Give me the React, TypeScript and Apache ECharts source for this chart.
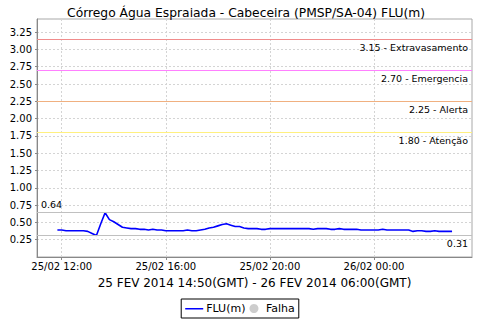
import React, { useEffect, useRef } from "react";
import * as echarts from "echarts";

const TITLE = "Córrego Água Espraiada - Cabeceira (PMSP/SA-04) FLU(m)";
const SUBTITLE = "25 FEV 2014 14:50(GMT) - 26 FEV 2014 06:00(GMT)";
const SERIES_NAME = "FLU(m)";
const FAIL_NAME = "Falha";

// minutes since 25/02 00:00 (local), readings every 10 minutes
const START_MIN = 710; // 25/02 11:50
const STEP_MIN = 10;
const X_MIN = 663;
const X_MAX = 1666;
const X_TICKS = [720, 960, 1200, 1440];

const FLU_VALUES = [
  0.39, 0.39, 0.38, 0.38, 0.38, 0.38, 0.38, 0.37, 0.34, 0.31,
  0.48, 0.64, 0.54, 0.51, 0.47, 0.43, 0.42, 0.41, 0.41, 0.40,
  0.40, 0.39, 0.40, 0.39, 0.39, 0.38, 0.38, 0.38, 0.38, 0.38,
  0.39, 0.38, 0.38, 0.39, 0.40, 0.42, 0.43, 0.45, 0.47, 0.48,
  0.46, 0.44, 0.44, 0.42, 0.41, 0.41, 0.41, 0.40, 0.40, 0.41,
  0.41, 0.41, 0.41, 0.41, 0.41, 0.41, 0.41, 0.41, 0.41, 0.40,
  0.41, 0.41, 0.41, 0.40, 0.40, 0.41, 0.40, 0.40, 0.40, 0.40,
  0.39, 0.39, 0.39, 0.39, 0.39, 0.40, 0.39, 0.39, 0.39, 0.39,
  0.39, 0.39, 0.37, 0.38, 0.38, 0.37, 0.37, 0.38, 0.37, 0.37,
  0.37, 0.37,
];

const LIMIT_VALUES = [3.15, 2.7, 2.25, 1.8];
const LIMIT_NAMES = ["Extravasamento", "Emergencia", "Alerta", "Atenção"];
const LIMIT_COLORS = ["#f08c8c", "#ff80ff", "#f0b080", "#fff080"];
const MAX_VALUE = 0.64;
const MIN_VALUE = 0.31;

const FONT = "DejaVu Sans";

export default function App() {
  const ref = useRef<HTMLDivElement>(null);
  useEffect(() => {
    if (!ref.current) return;
    const chart = echarts.init(ref.current, null, { renderer: "svg" });
    const data = FLU_VALUES.map((v, i) => [START_MIN + i * STEP_MIN, v]);
    const fmtX = (v: number) => {
      const day = v >= 1440 ? 26 : 25;
      const m = ((v % 1440) + 1440) % 1440;
      const hh = Math.floor(m / 60);
      const mm = m % 60;
      return `${day}/02 ${String(hh).padStart(2, "0")}:${String(mm).padStart(2, "0")}`;
    };
    const limitLines = LIMIT_VALUES.map((v, i) => ({
      yAxis: v,
      lineStyle: { color: LIMIT_COLORS[i], width: 1, type: "solid" },
      label: {
        show: true,
        position: "insideEndBottom",
        formatter: `${v.toFixed(2)} - ${LIMIT_NAMES[i]}`,
        color: "#000",
        fontFamily: FONT,
        fontSize: 9.5,
        distance: [4, 3],
      },
    }));
    chart.setOption({
      animation: false,
      backgroundColor: "#fff",
      textStyle: { fontFamily: FONT },
      title: {
        text: TITLE,
        left: 241,
        textAlign: "center",
        top: 2,
        textStyle: { fontFamily: FONT, fontSize: 12.3, fontWeight: "normal", color: "#000" },
      },
      grid: {
        left: 37,
        right: 8,
        top: 19,
        bottom: 63,
        show: true,
        borderColor: "#a8a8a8",
        borderWidth: 1,
        backgroundColor: "#fff",
      },
      legend: {
        bottom: 2,
        left: "center",
        itemWidth: 18,
        itemHeight: 9,
        itemGap: 4,
        padding: [4, 4],
        borderColor: "#000",
        borderWidth: 1,
        borderRadius: 0,
        textStyle: { fontFamily: FONT, fontSize: 11, color: "#000", padding: [0, 0, 0, -2] },
        data: [
          { name: SERIES_NAME, icon: "path://M0 0h18v0.01H0z M0 4h18v1.6H0z M0 8.99h18v0.01H0z" },
          { name: FAIL_NAME, icon: "circle" },
        ],
      },
      xAxis: {
        type: "value",
        min: X_MIN,
        max: X_MAX,
        name: SUBTITLE,
        nameLocation: "middle",
        nameGap: 20,
        nameTextStyle: { fontFamily: FONT, fontSize: 12, color: "#000" },
        axisLine: { show: true, lineStyle: { color: "#888" } },
        axisTick: { show: true, length: 3, customValues: X_TICKS, lineStyle: { color: "#888" } },
        axisLabel: {
          customValues: X_TICKS,
          formatter: fmtX,
          fontFamily: FONT,
          fontSize: 10,
          color: "#000",
          margin: 4,
        },
        splitLine: { show: true, lineStyle: { color: "#d4d4d4", type: [2, 2] } },
      },
      yAxis: {
        type: "value",
        min: 0,
        max: 3.44,
        interval: 0.25,
        axisLine: { show: true, lineStyle: { color: "#888" } },
        axisTick: { show: true, length: 2, lineStyle: { color: "#888" } },
        axisLabel: {
          formatter: (v: number) => v.toFixed(2),
          fontFamily: FONT,
          fontSize: 10,
          color: "#000",
          margin: 5,
          showMinLabel: false,
          showMaxLabel: false,
        },
        splitLine: { show: true, lineStyle: { color: "#d4d4d4", type: [2, 2] } },
      },
      series: [
        {
          name: SERIES_NAME,
          type: "line",
          data,
          symbol: "none",
          color: "#0000ff",
          lineStyle: { color: "#0000ff", width: 1.6 },
          markLine: {
            silent: true,
            symbol: "none",
            data: [
              ...limitLines,
              {
                yAxis: MAX_VALUE,
                lineStyle: { color: "#c0c0c0", width: 1, type: "solid" },
                label: {
                  show: true,
                  position: "insideStartTop",
                  formatter: MAX_VALUE.toFixed(2),
                  color: "#000",
                  fontFamily: FONT,
                  fontSize: 9.5,
                  distance: [4, 3],
                },
              },
              {
                yAxis: MIN_VALUE,
                lineStyle: { color: "#c0c0c0", width: 1, type: "solid" },
                label: {
                  show: true,
                  position: "insideEndBottom",
                  formatter: MIN_VALUE.toFixed(2),
                  color: "#000",
                  fontFamily: FONT,
                  fontSize: 9.5,
                  distance: [4, 3],
                },
              },
            ],
          },
        },
        {
          name: FAIL_NAME,
          type: "scatter",
          data: [],
          color: "#c0c0c0",
          itemStyle: { color: "#c0c0c0" },
        },
      ],
    });
    return () => chart.dispose();
  }, []);
  return <div ref={ref} style={{ width: 480, height: 320, position: "absolute", left: 0, top: 0 }} />;
}
